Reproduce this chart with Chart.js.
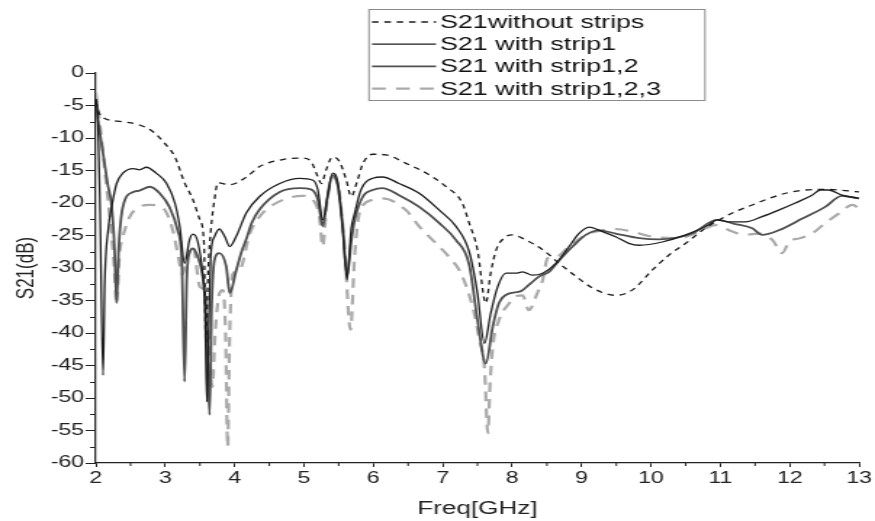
<!DOCTYPE html>
<html>
<head>
<meta charset="utf-8">
<script src="https://cdn.jsdelivr.net/npm/chart.js@4.4.1/dist/chart.umd.min.js"></script>
<style>
  html, body { margin: 0; padding: 0; background: #fff; }
</style>
</head>
<body>
<!-- the original figure is a horizontally stretched bitmap, so draw narrow and stretch with css -->
<canvas id="c" width="603" height="521" style="display:block;width:875px;height:521px"></canvas>
<script>
const SX = 875 / 603;

const seriesNames = ['S21without strips', 'S21 with strip1', 'S21 with strip1,2', 'S21 with strip1,2,3'];

const freqNoStrip = [2.0, 2.05, 2.13, 2.39, 2.63, 2.82, 2.99, 3.14, 3.28, 3.40, 3.50, 3.56, 3.585, 3.62, 3.66, 3.71, 3.76, 3.93, 4.17, 4.36, 4.70, 4.98, 5.10, 5.20, 5.25, 5.32, 5.41, 5.51, 5.61, 5.68, 5.77, 5.85, 5.99, 6.18, 6.47, 6.76, 7.05, 7.28, 7.38, 7.50, 7.62, 7.69, 7.77, 7.91, 8.00, 8.20, 8.44, 8.68, 8.92, 9.16, 9.49, 9.73, 10.02, 10.26, 10.50, 10.74, 10.98, 11.22, 11.46, 11.70, 11.94, 12.23, 12.51, 12.80, 13.0];
const s21NoStrip = [-4.5, -6.2, -7.0, -7.5, -8.0, -9.0, -10.8, -12.9, -16.9, -19.5, -22.6, -26.5, -41.5, -30, -24, -19.5, -16.9, -17.2, -16.0, -14.4, -13.3, -13.1, -13.6, -16.0, -17.0, -14.9, -12.9, -13.6, -16.5, -19.0, -16.5, -13.9, -12.5, -12.6, -13.9, -15.4, -17.5, -20.0, -23.1, -27.2, -35.4, -30.8, -27.2, -25.2, -24.9, -25.7, -27.2, -29.3, -31.3, -33.1, -34.2, -33.4, -30.3, -28.0, -26.2, -24.2, -22.6, -21.3, -20.3, -19.3, -18.5, -18.0, -17.9, -18.1, -18.3];

const freqStrip1 = [2.0, 2.02, 2.06, 2.105, 2.13, 2.18, 2.23, 2.30, 2.39, 2.54, 2.63, 2.73, 2.87, 3.02, 3.14, 3.21, 3.28, 3.35, 3.40, 3.47, 3.54, 3.57, 3.60, 3.63, 3.66, 3.71, 3.78, 3.86, 3.93, 4.02, 4.17, 4.36, 4.65, 4.94, 5.13, 5.20, 5.27, 5.34, 5.41, 5.49, 5.56, 5.62, 5.68, 5.73, 5.82, 5.99, 6.13, 6.37, 6.66, 6.95, 7.19, 7.38, 7.50, 7.60, 7.69, 7.79, 7.91, 8.05, 8.15, 8.29, 8.44, 8.63, 8.82, 8.96, 9.11, 9.30, 9.49, 9.68, 9.83, 10.16, 10.50, 10.83, 10.95, 11.12, 11.36, 11.60, 11.84, 12.08, 12.32, 12.44, 12.56, 12.75, 13.0];
const s21Strip1 = [-4, -5, -20, -46.5, -32, -24, -20.5, -17.0, -15.4, -14.7, -14.9, -14.5, -15.4, -17.0, -20.0, -23.6, -29.3, -25.7, -24.8, -26.0, -30.8, -35, -50.6, -38, -27.7, -25.2, -24.0, -25.2, -26.7, -25.2, -21.5, -19.0, -17.0, -16.2, -16.5, -18.0, -22.6, -19.0, -15.4, -17.0, -24.2, -31.8, -24, -21.6, -18.0, -16.2, -16.0, -17.0, -18.5, -21.1, -23.6, -27.5, -33.9, -41.6, -37.0, -32.9, -30.8, -30.8, -30.6, -31.1, -30.8, -29.3, -26.7, -24.7, -23.7, -24.4, -25.2, -26.2, -26.5, -26.0, -24.9, -23.4, -22.6, -22.9, -22.9, -22.1, -21.1, -20.0, -18.8, -18.0, -18.0, -18.8, -19.3];

const freqStrip12 = [2.0, 2.03, 2.1, 2.17, 2.23, 2.27, 2.30, 2.33, 2.39, 2.54, 2.63, 2.78, 2.92, 3.06, 3.18, 3.24, 3.28, 3.31, 3.35, 3.40, 3.47, 3.54, 3.58, 3.61, 3.64, 3.67, 3.71, 3.78, 3.88, 3.93, 4.02, 4.10, 4.17, 4.25, 4.36, 4.65, 4.94, 5.10, 5.20, 5.27, 5.34, 5.41, 5.49, 5.56, 5.62, 5.68, 5.73, 5.85, 5.99, 6.13, 6.37, 6.66, 6.95, 7.19, 7.38, 7.50, 7.62, 7.72, 7.81, 7.96, 8.12, 8.24, 8.39, 8.53, 8.68, 8.87, 9.06, 9.25, 9.49, 9.83, 10.11, 10.59, 10.95, 11.2, 11.46, 11.60, 11.84, 12.18, 12.51, 12.75, 13.0];
const s21Strip12 = [-4, -7, -12, -17, -20.6, -27, -35.4, -27, -20.6, -18.3, -18.1, -17.5, -18.5, -20.6, -24.2, -29, -47.5, -32, -27.7, -27.0, -28.3, -31.3, -36, -44, -52.6, -36, -28.8, -27.7, -29.8, -33.9, -30.5, -27.5, -25.5, -23, -21, -18.3, -17.7, -17.9, -19.5, -23.6, -19, -15.7, -17.5, -24, -31.3, -26, -22.6, -19.0, -18.0, -17.7, -18.8, -20.6, -23.1, -25.7, -29.5, -38.0, -44.7, -39.0, -35.4, -33.9, -33.6, -32.6, -31.3, -30.6, -28.8, -26.7, -24.9, -24.2, -24.7, -25.4, -25.6, -24.7, -22.6, -23.2, -23.9, -24.9, -24.2, -22.4, -20.6, -18.9, -19.3];

const freqStrip123 = [2.0, 2.05, 2.12, 2.2, 2.26, 2.30, 2.34, 2.39, 2.49, 2.63, 2.78, 2.97, 3.11, 3.18, 3.25, 3.32, 3.40, 3.50, 3.57, 3.62, 3.68, 3.72, 3.78, 3.83, 3.87, 3.90, 3.93, 3.97, 4.07, 4.22, 4.36, 4.60, 4.98, 5.15, 5.22, 5.27, 5.33, 5.41, 5.50, 5.58, 5.67, 5.73, 5.80, 5.99, 6.13, 6.47, 6.66, 6.90, 7.09, 7.26, 7.43, 7.53, 7.60, 7.65, 7.68, 7.72, 7.81, 7.96, 8.05, 8.15, 8.24, 8.36, 8.44, 8.51, 8.63, 8.82, 9.06, 9.25, 9.49, 9.73, 10.02, 10.40, 10.69, 10.93, 11.17, 11.36, 11.55, 11.75, 11.89, 11.99, 12.15, 12.32, 12.51, 12.71, 12.90, 13.0];
const s21Strip123 = [-3, -7, -14, -22, -29, -35.5, -28, -25.2, -22.1, -20.6, -20.3, -20.8, -24.2, -27.7, -31, -28, -26.7, -32.9, -33.5, -40, -48.3, -40, -34, -33.4, -40, -57.5, -40, -31, -30.3, -24.7, -22.1, -20.0, -18.9, -19.8, -22, -26.7, -20, -16, -18, -26, -39.5, -28, -21.5, -19.5, -19.3, -21.1, -23.6, -26.2, -28.3, -30.8, -36.0, -41.1, -45.3, -55.4, -48, -42.1, -38.0, -35.4, -34.4, -34.2, -36.5, -33.9, -31.8, -28.5, -28.3, -26.7, -24.9, -24.3, -24.0, -24.4, -25.2, -25.4, -24.4, -23.4, -24.4, -24.9, -24.7, -25.7, -27.7, -26.0, -25.4, -24.7, -23.1, -21.6, -20.3, -20.8];

const toPoints = (xs, ys) => xs.map((x, i) => ({ x, y: ys[i] }));

const FONT = '"Liberation Sans", Arial, sans-serif';

// minor ticks on both axes (chart.js only does major ones)
const minorTicks = {
    id: 'minorTicks',
    afterDraw(chart) {
        const { ctx, scales: { x, y } } = chart;
        ctx.save();
        ctx.strokeStyle = '#222';
        ctx.lineWidth = 1;
        ctx.beginPath();
        for (let v = -57.5; v < 0; v += 5) {
            const py = Math.round(y.getPixelForValue(v)) + 0.5;
            ctx.moveTo(x.left - 4, py);
            ctx.lineTo(x.left, py);
        }
        for (let v = 2.5; v < 13; v += 1) {
            const px = x.getPixelForValue(v);
            ctx.moveTo(px, y.bottom);
            ctx.lineTo(px, y.bottom + 3);
        }
        ctx.stroke();
        ctx.restore();
    }
};

// boxed legend sitting over the top of the plot
const legendBox = {
    id: 'legendBox',
    afterDraw(chart) {
        const ctx = chart.ctx;
        const left = 369 / SX, right = 705 / SX;
        ctx.save();
        ctx.fillStyle = '#fff';
        ctx.fillRect(left, 9.5, right - left, 91);
        ctx.strokeStyle = '#8c8c8c';
        ctx.lineWidth = 1;
        ctx.strokeRect(left, 9.5, right - left, 91);
        chart.data.datasets.forEach((ds, i) => {
            const yy = 22 + i * 22.2;
            ctx.strokeStyle = ds.borderColor;
            ctx.lineWidth = ds.borderWidth;
            ctx.setLineDash(ds.borderDash || []);
            ctx.beginPath();
            ctx.moveTo(372 / SX, yy);
            ctx.lineTo(436 / SX, yy);
            ctx.stroke();
            ctx.setLineDash([]);
            ctx.fillStyle = '#111';
            ctx.font = '18.5px ' + FONT;
            ctx.textBaseline = 'middle';
            ctx.fillText(ds.label, 440 / SX, yy + 1);
        });
        ctx.restore();
    }
};

const chart = new Chart(document.getElementById('c'), {
    type: 'line',
    data: {
        datasets: [
            {
                label: seriesNames[0],
                data: toPoints(freqNoStrip, s21NoStrip),
                borderColor: '#1a1a1a',
                borderWidth: 1.3,
                borderDash: [4.5, 4]
            },
            {
                label: seriesNames[1],
                data: toPoints(freqStrip1, s21Strip1),
                borderColor: '#1e1e1e',
                borderWidth: 1.3
            },
            {
                label: seriesNames[2],
                data: toPoints(freqStrip12, s21Strip12),
                borderColor: '#505050',
                borderWidth: 1.8
            },
            {
                label: seriesNames[3],
                data: toPoints(freqStrip123, s21Strip123),
                borderColor: '#aaaaaa',
                borderWidth: 2.2,
                borderDash: [9.5, 7]
            }
        ]
    },
    options: {
        responsive: false,
        animation: false,
        devicePixelRatio: 1,
        layout: { padding: { left: 0, right: 10, top: 73, bottom: 0 } },
        elements: {
            point: { radius: 0 },
            line: { fill: false, cubicInterpolationMode: 'monotone' }
        },
        plugins: {
            legend: { display: false },
            tooltip: { enabled: false }
        },
        scales: {
            x: {
                type: 'linear',
                min: 2,
                max: 13,
                afterFit: scale => { scale.height = 58; },
                border: { display: true, color: '#222', width: 1.3 },
                grid: { drawOnChartArea: false, drawTicks: true, tickLength: 4, color: '#222' },
                ticks: { stepSize: 1, padding: 2, color: '#222', font: { family: FONT, size: 16 } },
                title: {
                    display: true,
                    text: 'Freq[GHz]',
                    color: '#222',
                    font: { family: FONT, size: 18 },
                    padding: { top: 0, bottom: 1 }
                }
            },
            y: {
                min: -60,
                max: 0,
                afterFit: scale => { scale.width = 66; },
                border: { display: true, color: '#222', width: 1.3 },
                grid: { drawOnChartArea: false, drawTicks: true, tickLength: 7, color: '#222' },
                ticks: { stepSize: 5, padding: 1, color: '#222', font: { family: FONT, size: 16 } },
                title: {
                    display: true,
                    text: 'S21(dB)',
                    color: '#222',
                    font: { family: FONT, size: 17 },
                    padding: { top: 8, bottom: 0 }
                }
            }
        }
    },
    plugins: [minorTicks, legendBox]
});
</script>
</body>
</html>
